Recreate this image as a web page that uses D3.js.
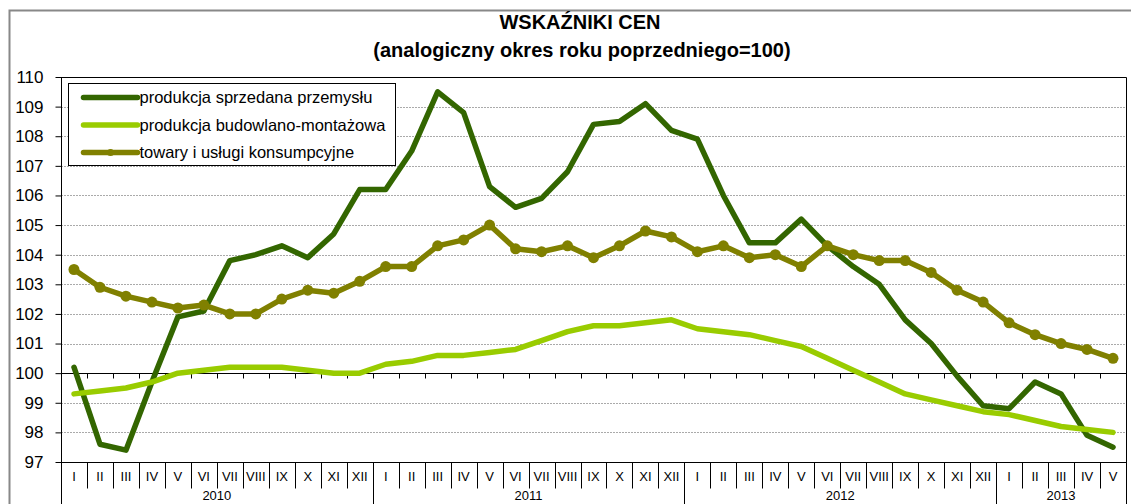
<!DOCTYPE html>
<html>
<head>
<meta charset="utf-8">
<script src="https://cdn.jsdelivr.net/npm/d3@7"></script>
<style>
	body { margin: 0; background: #fff; }
	text { font-family: Arial, "Liberation Sans", sans-serif; }
</style>
</head>
<body>
<div class="canvas"></div>
<script>
// dane
const years = ['2010', '2011', '2012', '2013'];
const monthsPerYear = [12, 12, 12, 5];
const romans = ['I', 'II', 'III', 'IV', 'V', 'VI', 'VII', 'VIII', 'IX', 'X', 'XI', 'XII'];
const yTicks = [97, 98, 99, 100, 101, 102, 103, 104, 105, 106, 107, 108, 109, 110];

const przemysl = [
	100.2, 97.6, 97.4, 99.7, 101.9, 102.1, 103.8, 104.0, 104.3, 103.9, 104.7, 106.2,
	106.2, 107.5, 109.5, 108.8, 106.3, 105.6, 105.9, 106.8, 108.4, 108.5, 109.1, 108.2,
	107.9, 106.0, 104.4, 104.4, 105.2, 104.3, 103.6, 103.0, 101.8, 101.0, 99.9, 98.9,
	98.8, 99.7, 99.3, 97.9, 97.5
];
const budowlana = [
	99.3, 99.4, 99.5, 99.7, 100.0, 100.1, 100.2, 100.2, 100.2, 100.1, 100.0, 100.0,
	100.3, 100.4, 100.6, 100.6, 100.7, 100.8, 101.1, 101.4, 101.6, 101.6, 101.7, 101.8,
	101.5, 101.4, 101.3, 101.1, 100.9, 100.5, 100.1, 99.7, 99.3, 99.1, 98.9, 98.7,
	98.6, 98.4, 98.2, 98.1, 98.0
];
const towary = [
	103.5, 102.9, 102.6, 102.4, 102.2, 102.3, 102.0, 102.0, 102.5, 102.8, 102.7, 103.1,
	103.6, 103.6, 104.3, 104.5, 105.0, 104.2, 104.1, 104.3, 103.9, 104.3, 104.8, 104.6,
	104.1, 104.3, 103.9, 104.0, 103.6, 104.3, 104.0, 103.8, 103.8, 103.4, 102.8, 102.4,
	101.7, 101.3, 101.0, 100.8, 100.5
];

const seriesNames = ['produkcja sprzedana przemysłu', 'produkcja budowlano-montażowa', 'towary i usługi konsumpcyjne'];
const seriesColours = ['#336600', '#99cc00', '#808000'];
const seriesValues = [przemysl, budowlana, towary];

// kategorije (mjeseci)
const categories = [];
years.forEach((yr, yi) => {
	for (let m = 0; m < monthsPerYear[yi]; m++) categories.push({ year: yr, month: romans[m] });
});

const svg = d3.select('.canvas')
	.append('svg')
	.attr('width', 1131)
	.attr('height', 504);

const plot = { left: 61, right: 1126, top: 77, bottom: 462 };

// okvir
svg.append('path')
	.attr('d', 'M9.5,504 L9.5,10.5 L1131,10.5')
	.attr('fill', 'none')
	.attr('stroke', '#888')
	.attr('stroke-width', 2);

// naslov
svg.append('text')
	.attr('x', 580).attr('y', 29)
	.attr('text-anchor', 'middle')
	.style('font-size', '20px').style('font-weight', 'bold')
	.text('WSKAŹNIKI CEN');
svg.append('text')
	.attr('x', 582).attr('y', 57)
	.attr('text-anchor', 'middle')
	.style('font-size', '20px').style('font-weight', 'bold')
	.text('(analogiczny okres roku poprzedniego=100)');

// skale
const x = d3.scaleBand()
	.domain(d3.range(categories.length))
	.range([plot.left, plot.right]);
const cx = (i) => x(i) + x.bandwidth() / 2;

const y = d3.scaleLinear()
	.domain([97, 110])
	.range([plot.bottom, plot.top]);

// mreza
svg.append('g')
	.selectAll('line')
	.data(yTicks.filter(d => d !== 97 && d !== 110 && d !== 100))
	.enter()
	.append('line')
	.attr('x1', plot.left).attr('x2', plot.right)
	.attr('y1', d => Math.round(y(d)) + 0.5).attr('y2', d => Math.round(y(d)) + 0.5)
	.attr('stroke', '#aaa')
	.attr('stroke-dasharray', '2,1');

// okvir grafa
svg.append('path')
	.attr('d', `M${plot.left},${plot.top + 0.5} L${plot.right + 0.5},${plot.top + 0.5} L${plot.right + 0.5},${plot.bottom}`)
	.attr('fill', 'none')
	.attr('stroke', '#000');

// y os
const yAxis = d3.axisLeft(y)
	.tickValues(yTicks)
	.tickSize(6)
	.tickPadding(12)
	.tickFormat(d3.format('d'));
const yAxisGroup = svg.append('g')
	.attr('transform', `translate(${plot.left + 0.5}, 0)`)
	.call(yAxis);
yAxisGroup.select('.domain').remove();
yAxisGroup.selectAll('text').style('font-size', '17px').style('font-family', 'Arial, "Liberation Sans", sans-serif');
svg.append('line')
	.attr('x1', plot.left + 0.5).attr('x2', plot.left + 0.5)
	.attr('y1', plot.top).attr('y2', 504)
	.attr('stroke', '#000');

// x os na 100
const y100 = Math.round(y(100)) + 0.5;
svg.append('line')
	.attr('x1', plot.left).attr('x2', plot.right)
	.attr('y1', y100).attr('y2', y100)
	.attr('stroke', '#000');
svg.append('g')
	.selectAll('line')
	.data(d3.range(1, categories.length))
	.enter()
	.append('line')
	.attr('x1', d => Math.round(x(d)) + 0.5).attr('x2', d => Math.round(x(d)) + 0.5)
	.attr('y1', y100).attr('y2', y100 + 5)
	.attr('stroke', '#000');

// donja os s kategorijama
const yb = Math.round(y(97)) + 0.5;
svg.append('line')
	.attr('x1', plot.left).attr('x2', plot.right + 1)
	.attr('y1', yb).attr('y2', yb)
	.attr('stroke', '#000');

const yearStarts = [];
let acc = 0;
monthsPerYear.forEach(n => { yearStarts.push(acc); acc += n; });
yearStarts.push(acc);

svg.append('g')
	.selectAll('line')
	.data(d3.range(1, categories.length + 1))
	.enter()
	.append('line')
	.attr('x1', d => Math.round(d < categories.length ? x(d) : plot.right) + 0.5)
	.attr('x2', d => Math.round(d < categories.length ? x(d) : plot.right) + 0.5)
	.attr('y1', yb)
	.attr('y2', d => yearStarts.includes(d) ? 504 : yb + 26)
	.attr('stroke', '#000');

svg.append('g')
	.selectAll('text')
	.data(categories)
	.enter()
	.append('text')
	.attr('x', (d, i) => cx(i))
	.attr('y', yb + 18)
	.attr('text-anchor', 'middle')
	.style('font-size', '13px')
	.text(d => d.month);

svg.append('g')
	.selectAll('text')
	.data(years)
	.enter()
	.append('text')
	.attr('x', (d, i) => (x(yearStarts[i]) + (yearStarts[i + 1] < categories.length ? x(yearStarts[i + 1]) : plot.right)) / 2)
	.attr('y', yb + 37)
	.attr('text-anchor', 'middle')
	.style('font-size', '13px')
	.text(d => d);

// linije
const line = d3.line()
	.x((d, i) => cx(i))
	.y(d => y(d));

seriesValues.forEach((vals, si) => {
	svg.append('path')
		.datum(vals)
		.attr('d', line)
		.attr('fill', 'none')
		.attr('stroke', seriesColours[si])
		.attr('stroke-width', 5.5)
		.attr('stroke-linejoin', 'round')
		.attr('stroke-linecap', 'round');
});

svg.append('g')
	.selectAll('circle')
	.data(towary)
	.enter()
	.append('circle')
	.attr('cx', (d, i) => cx(i))
	.attr('cy', d => y(d))
	.attr('r', 5.5)
	.attr('fill', seriesColours[2]);

// legenda
const legend = svg.append('g').attr('transform', 'translate(68.5, 83.5)');
legend.append('rect')
	.attr('width', 327).attr('height', 82)
	.attr('fill', '#fff')
	.attr('stroke', '#000');
seriesNames.forEach((name, i) => {
	const ly = 14 + i * 27.5;
	legend.append('line')
		.attr('x1', 15).attr('x2', 69)
		.attr('y1', ly).attr('y2', ly)
		.attr('stroke', seriesColours[i])
		.attr('stroke-width', 5.5)
		.attr('stroke-linecap', 'round');
	if (i === 2) {
		legend.append('circle')
			.attr('cx', 42).attr('cy', ly).attr('r', 3.5)
			.attr('fill', seriesColours[i]);
	}
	legend.append('text')
		.attr('x', 71).attr('y', ly + 5.5)
		.style('font-size', '16.5px')
		.text(name);
});
</script>
</body>
</html>
